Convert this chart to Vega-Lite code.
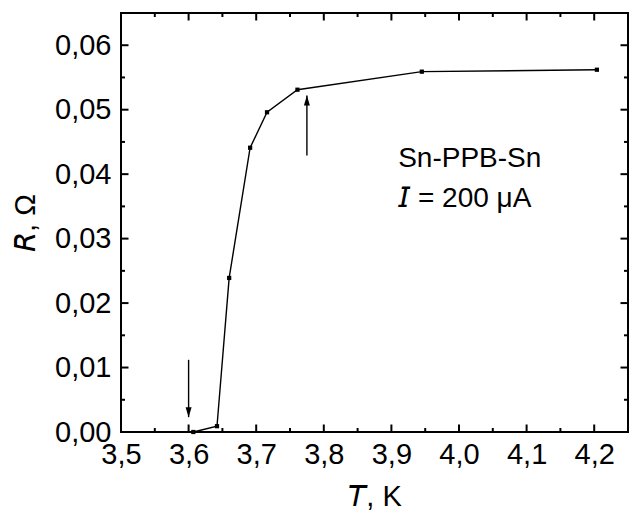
{
  "$schema": "https://vega.github.io/schema/vega-lite/v6.json",
  "width": 507,
  "height": 419,
  "autosize": "none",
  "padding": {"left": 121, "top": 13, "right": 1, "bottom": 81},
  "background": "white",
  "config": {
    "view": {"stroke": "black", "strokeWidth": 2},
    "axis": {
      "domain": false,
      "grid": false,
      "ticks": false,
      "labelFlush": false,
      "labelFont": "Liberation Sans",
      "labelFontSize": 29,
      "labelColor": "black",
      "titleFont": "Liberation Sans",
      "titleFontSize": 29,
      "titleFontWeight": "normal",
      "titleColor": "black"
    }
  },
  "datasets": {
    "curve": [
      {"T": 3.607, "R": 0.0},
      {"T": 3.642, "R": 0.0009},
      {"T": 3.660, "R": 0.0239},
      {"T": 3.691, "R": 0.0441},
      {"T": 3.716, "R": 0.0496},
      {"T": 3.761, "R": 0.0531},
      {"T": 3.945, "R": 0.0559},
      {"T": 4.204, "R": 0.0562}
    ],
    "arrows": [
      {"T": 3.600, "R1": 0.0112, "R2": 0.0023, "dir": "down"},
      {"T": 3.775, "R1": 0.0429, "R2": 0.0522, "dir": "up"}
    ],
    "notes": [
      {"T": 3.91, "R": 0.0411, "label": "Sn-PPB-Sn"},
      {"T": 3.91, "R": 0.0349, "label": "𝘐 = 200 μA"}
    ],
    "xticks": [
      {"T": 3.5, "kind": "major"}, {"T": 3.55, "kind": "minor"},
      {"T": 3.6, "kind": "major"}, {"T": 3.65, "kind": "minor"},
      {"T": 3.7, "kind": "major"}, {"T": 3.75, "kind": "minor"},
      {"T": 3.8, "kind": "major"}, {"T": 3.85, "kind": "minor"},
      {"T": 3.9, "kind": "major"}, {"T": 3.95, "kind": "minor"},
      {"T": 4.0, "kind": "major"}, {"T": 4.05, "kind": "minor"},
      {"T": 4.1, "kind": "major"}, {"T": 4.15, "kind": "minor"},
      {"T": 4.2, "kind": "major"}
    ],
    "yticks": [
      {"R": 0.0, "kind": "major"}, {"R": 0.005, "kind": "minor"},
      {"R": 0.01, "kind": "major"}, {"R": 0.015, "kind": "minor"},
      {"R": 0.02, "kind": "major"}, {"R": 0.025, "kind": "minor"},
      {"R": 0.03, "kind": "major"}, {"R": 0.035, "kind": "minor"},
      {"R": 0.04, "kind": "major"}, {"R": 0.045, "kind": "minor"},
      {"R": 0.05, "kind": "major"}, {"R": 0.055, "kind": "minor"},
      {"R": 0.06, "kind": "major"}
    ]
  },
  "layer": [
    {
      "data": {"name": "curve"},
      "mark": {"type": "line", "color": "black", "strokeWidth": 1.4},
      "encoding": {
        "x": {
          "field": "T", "type": "quantitative",
          "scale": {"domain": [3.5, 4.25], "nice": false, "zero": false},
          "axis": {
            "orient": "bottom",
            "values": [3.5, 3.6, 3.7, 3.8, 3.9, 4.0, 4.1, 4.2],
            "labelPadding": 8,
            "labelExpr": "replace(format(datum.value, '.1f'), '.', ',')",
            "title": "𝘛,  K",
            "titlePadding": 13
          }
        },
        "y": {
          "field": "R", "type": "quantitative",
          "scale": {"domain": [0, 0.065], "nice": false, "zero": false},
          "axis": {
            "orient": "left",
            "values": [0, 0.01, 0.02, 0.03, 0.04, 0.05, 0.06],
            "labelPadding": 10,
            "labelExpr": "replace(format(datum.value, '.2f'), '.', ',')",
            "title": "𝘙,  Ω",
            "titlePadding": 14
          }
        }
      }
    },
    {
      "data": {"name": "curve"},
      "mark": {"type": "point", "shape": "square", "filled": true, "color": "black", "size": 18, "opacity": 1},
      "encoding": {
        "x": {"field": "T", "type": "quantitative"},
        "y": {"field": "R", "type": "quantitative"}
      }
    },
    {
      "data": {"name": "xticks"},
      "mark": {"type": "tick", "orient": "vertical", "thickness": 2, "color": "black", "opacity": 1, "clip": true},
      "encoding": {
        "x": {"field": "T", "type": "quantitative"},
        "y": {"datum": 0, "type": "quantitative"},
        "size": {"field": "kind", "type": "nominal", "scale": {"domain": ["major", "minor"], "range": [15, 8]}, "legend": null}
      }
    },
    {
      "data": {"name": "xticks"},
      "mark": {"type": "tick", "orient": "vertical", "thickness": 2, "color": "black", "opacity": 1, "clip": true},
      "encoding": {
        "x": {"field": "T", "type": "quantitative"},
        "y": {"datum": 0.065, "type": "quantitative"},
        "size": {"field": "kind", "type": "nominal", "scale": {"domain": ["major", "minor"], "range": [15, 8]}, "legend": null}
      }
    },
    {
      "data": {"name": "yticks"},
      "mark": {"type": "tick", "orient": "horizontal", "thickness": 2, "color": "black", "opacity": 1, "clip": true},
      "encoding": {
        "y": {"field": "R", "type": "quantitative"},
        "x": {"datum": 3.5, "type": "quantitative"},
        "size": {"field": "kind", "type": "nominal", "scale": {"domain": ["major", "minor"], "range": [15, 8]}, "legend": null}
      }
    },
    {
      "data": {"name": "yticks"},
      "mark": {"type": "tick", "orient": "horizontal", "thickness": 2, "color": "black", "opacity": 1, "clip": true},
      "encoding": {
        "y": {"field": "R", "type": "quantitative"},
        "x": {"datum": 4.25, "type": "quantitative"},
        "size": {"field": "kind", "type": "nominal", "scale": {"domain": ["major", "minor"], "range": [15, 8]}, "legend": null}
      }
    },
    {
      "data": {"name": "arrows"},
      "mark": {"type": "rule", "color": "black", "strokeWidth": 1.4},
      "encoding": {
        "x": {"field": "T", "type": "quantitative"},
        "y": {"field": "R1", "type": "quantitative"},
        "y2": {"field": "R2"}
      }
    },
    {
      "data": {"name": "arrows"},
      "mark": {"type": "point", "filled": true, "color": "black", "size": 100, "opacity": 1},
      "encoding": {
        "x": {"field": "T", "type": "quantitative"},
        "y": {"field": "R2", "type": "quantitative"},
        "shape": {
          "field": "dir", "type": "nominal",
          "scale": {"domain": ["down", "up"], "range": ["M0,0L-0.6,-2L0.6,-2Z", "M0,0L-0.6,2L0.6,2Z"]},
          "legend": null
        }
      }
    },
    {
      "data": {"name": "notes"},
      "mark": {"type": "text", "align": "left", "baseline": "alphabetic", "font": "Liberation Sans", "fontSize": 28, "color": "black"},
      "encoding": {
        "x": {"field": "T", "type": "quantitative"},
        "y": {"field": "R", "type": "quantitative"},
        "text": {"field": "label"}
      }
    }
  ]
}
